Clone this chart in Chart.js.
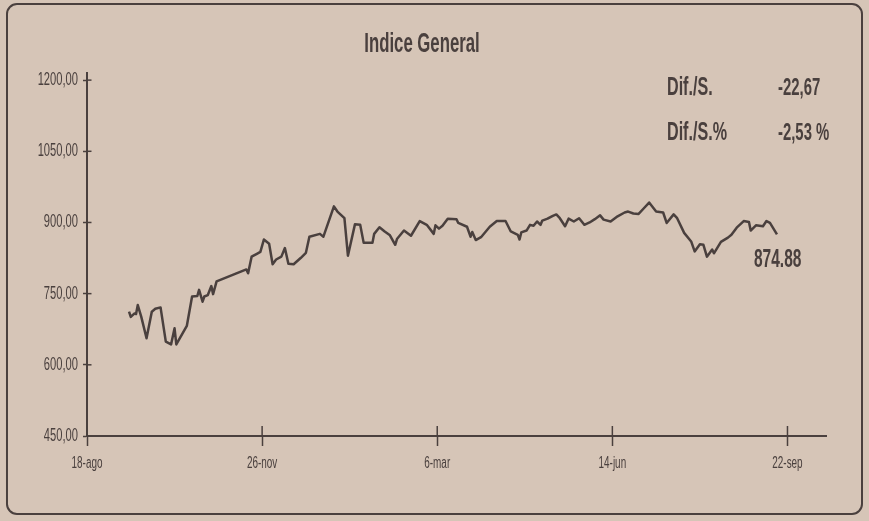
<!DOCTYPE html>
<html>
<head>
<meta charset="utf-8">
<script src="https://cdn.jsdelivr.net/npm/chart.js@4.4.1/dist/chart.umd.min.js"></script>
<style>
html,body{margin:0;padding:0;background:#d6c5b7;}
canvas{display:block;}
</style>
</head>
<body>
<canvas id="c" width="869" height="521"></canvas>
<script>
// ---- data ----
const titleText = 'Indice General';
const xTickDays = [0, 100, 200, 300, 400];
const xTickLabels = ['18-ago', '26-nov', '6-mar', '14-jun', '22-sep'];
const yTickValues = [450, 600, 750, 900, 1050, 1200];
const yTickLabels = ['450,00', '600,00', '750,00', '900,00', '1050,00', '1200,00'];
// days counted from 18-ago
const days = [
  24,25,27,28,29,31,34,37,39,42,
  45,48,50,51,57,60,63,64,66,67,
  69,71,72,74,91,92,94,97,99,101,
  104,106,108,111,113,115,118,122,125,127,
  133,135,141,143,147,149,153,156,158,163,
  164,167,170,173,176,177,181,185,190,194,
  198,199,201,203,206,211,212,217,219,220,
  222,225,230,234,239,242,246,247,248,251,
  253,255,257,259,260,263,266,268,270,273,
  275,278,281,284,287,290,293,295,299,303,
  307,309,312,315,318,321,325,329,331,335,
  337,341,345,347,350,352,354,357,358,362,
  366,368,371,375,378,379,382,386,388,390,394
];
const values = [
  712,701,708,707,726,701,656,712,718,721,
  649,643,677,643,682,744,745,758,733,744,
  747,766,749,776,801,793,828,834,838,864,
  855,812,822,828,846,813,812,825,836,870,
  876,870,934,923,909,830,896,895,857,857,
  876,890,881,873,853,865,883,872,903,895,
  876,894,887,893,908,907,899,891,870,880,
  863,869,891,903,903,881,874,864,879,883,
  895,893,902,895,904,908,914,917,909,892,
  908,902,909,895,900,907,915,906,902,913,
  921,923,919,918,930,942,923,921,899,917,
  909,878,860,839,854,853,828,843,835,859,
  868,874,889,903,901,883,894,892,903,899,874.88
];
const difLabels = ['Dif./S.', 'Dif./S.%'];
const difValues = ['-22,67', '-2,53 %'];

// ---- style ----
const INK = '#4a403e';
const PAPER = '#d6c5b7';
const FONT = "'Liberation Sans', Arial, sans-serif";
const SX = 0.62; // condensed type look

const canvas = document.getElementById('c');
const ctx = canvas.getContext('2d');
const nativeFill = ctx.fillText;
ctx.fillText = function (t, x, y) {
  this.save();
  this.translate(x, y);
  this.scale(SX, 1);
  nativeFill.call(this, t, 0, 0);
  this.restore();
};

const decor = {
  id: 'decor',
  beforeDraw(chart) {
    const c = chart.ctx;
    c.save();
    c.fillStyle = PAPER;
    c.fillRect(0, 0, chart.width, chart.height);
    c.strokeStyle = INK;
    c.lineWidth = 2;
    c.beginPath();
    c.roundRect(7, 4, 855, 510, 10);
    c.stroke();
    c.restore();
  },
  afterDraw(chart) {
    const c = chart.ctx, xs = chart.scales.x, ys = chart.scales.y;
    c.save();
    c.strokeStyle = INK;
    c.lineWidth = 1.5;
    const ax = xs.left, ay = ys.bottom;
    yTickValues.forEach(v => {
      const p = ys.getPixelForValue(v);
      c.beginPath(); c.moveTo(ax, p); c.lineTo(ax + 4.5, p); c.stroke();
    });
    xTickDays.forEach(v => {
      const p = xs.getPixelForValue(v);
      c.beginPath(); c.moveTo(p, ay); c.lineTo(p, ay - 10); c.stroke();
    });
    c.fillStyle = INK;
    c.textBaseline = 'alphabetic';
    c.textAlign = 'center';
    c.font = 'bold 27px ' + FONT;
    c.fillText(titleText, 422, 52);
    c.textAlign = 'left';
    c.font = 'bold 26px ' + FONT;
    difLabels.forEach((t, i) => c.fillText(t, 667, 95 + i * 45));
    c.font = 'bold 24px ' + FONT;
    difValues.forEach((t, i) => c.fillText(t, 778, 95 + i * 45));
    const lastX = xs.getPixelForValue(days[days.length - 1]);
    const lastY = ys.getPixelForValue(values[values.length - 1]);
    c.font = 'bold 25px ' + FONT;
    c.fillText(values[values.length - 1].toFixed(2), lastX - 23, lastY + 33);
    c.restore();
  }
};

new Chart(ctx, {
  type: 'line',
  data: {
    datasets: [{
      data: days.map((d, i) => ({ x: d, y: values[i] })),
      borderColor: INK,
      borderWidth: 2.5,
      pointRadius: 0,
      tension: 0,
      fill: false,
      borderJoinStyle: 'round'
    }]
  },
  options: {
    responsive: false,
    animation: false,
    layout: { padding: { top: 73, right: 43, bottom: 0, left: 0 } },
    plugins: { legend: { display: false }, tooltip: { enabled: false }, title: { display: false } },
    scales: {
      x: {
        type: 'linear', min: 0, max: 422,
        afterBuildTicks: s => { s.ticks = xTickDays.map(v => ({ value: v })); },
        afterFit: s => { s.height = 85; },
        ticks: {
          autoSkip: false, maxRotation: 0, padding: 8, color: INK,
          font: { family: FONT, size: 16 },
          callback: v => xTickLabels[xTickDays.indexOf(v)]
        },
        grid: { drawOnChartArea: false, drawTicks: true, tickLength: 10, tickColor: INK, tickWidth: 1.5 },
        border: { display: true, color: INK, width: 2 }
      },
      y: {
        type: 'linear', min: 450, max: 1215,
        afterBuildTicks: s => { s.ticks = yTickValues.map(v => ({ value: v })); },
        afterFit: s => { s.width = 87; },
        ticks: {
          padding: 5, color: INK,
          font: { family: FONT, size: 18 },
          callback: v => yTickLabels[yTickValues.indexOf(v)]
        },
        grid: { drawOnChartArea: false, drawTicks: true, tickLength: 4, tickColor: INK, tickWidth: 1.5 },
        border: { display: true, color: INK, width: 2 }
      }
    }
  },
  plugins: [decor]
});
</script>
</body>
</html>
